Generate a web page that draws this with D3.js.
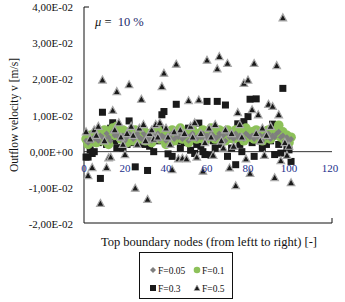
<!DOCTYPE html>
<html><head><meta charset="utf-8">
<script src="https://cdn.jsdelivr.net/npm/d3@7"></script>
<style>body{margin:0;background:#fff}svg{display:block}</style>
</head><body>
<svg id="c" width="345" height="302"></svg>
<script>
// Data (values in m/s), node index 1..101
const xTicks = [0, 20, 40, 60, 80, 100, 120];
const yTicks = [-0.02, -0.01, 0, 0.01, 0.02, 0.03, 0.04];
const yTickLabels = ["-2,00E-02","-1,00E-02","0,00E+00","1,00E-02","2,00E-02","3,00E-02","4,00E-02"];
const seriesNames = ["F=0.05", "F=0.1", "F=0.3", "F=0.5"];

const f005 = [3.0,2.5,3.5,3.0,4.0,3.5,3.0,4.5,4.0,3.5,5.0,4.0,3.0,5.5,4.5,5.0,4.0,3.5,4.5,3.0,
  4.0,5.0,4.5,3.5,4.0,5.0,4.0,3.5,5.0,4.0,4.5,3.5,3.0,4.5,4.0,5.0,3.5,4.5,4.0,3.0,
  4.5,4.0,5.0,3.5,4.5,4.0,5.0,3.5,4.0,4.5,3.0,4.5,5.0,4.0,3.5,4.5,4.0,5.0,3.5,4.5,
  4.0,5.0,4.5,3.5,4.0,5.0,4.0,4.5,3.0,5.0,4.0,4.5,3.5,5.0,4.0,4.5,4.0,3.5,5.0,4.5,
  4.0,4.5,3.5,5.0,4.0,4.5,3.0,4.5,4.0,5.0,3.5,4.5,4.0,5.0,5.5,4.0,4.5,3.0,4.0,3.0,3.5].map(v => v * 1e-3);

const f01 = [3.5,2.0,4.5,3.0,5.0,2.5,4.0,5.5,3.0,6.0,4.0,2.0,5.0,6.5,4.5,7.0,5.5,3.5,6.0,4.0,
  2.5,5.5,4.5,3.0,6.0,5.0,3.5,4.5,6.0,3.0,5.0,4.0,2.5,5.5,4.5,6.0,3.5,5.0,4.0,2.0,
  5.5,4.5,6.0,3.0,5.0,4.0,6.5,3.5,5.0,4.5,2.5,5.5,6.0,4.0,3.5,5.0,4.5,6.0,3.0,5.5,
  4.0,6.5,4.5,3.5,5.0,6.0,4.0,5.5,3.0,6.0,4.5,5.0,3.5,6.0,4.0,5.5,4.5,3.0,6.5,5.0,
  4.0,5.5,3.5,6.0,4.5,5.0,3.0,5.5,4.0,6.0,3.5,5.0,4.5,6.0,7.3,4.0,5.5,3.0,4.5,2.5,4.0].map(v => v * 1e-3);

const f03 = [-1.5,-1.5,0.5,-0.5,0.0,3.0,2.5,-7.4,10.9,4.0,2.0,5.5,6.5,8.0,3.0,1.1,6.0,3.5,1.0,5.0,
  2.0,8.5,4.5,2.5,-4.2,3.0,4.5,6.0,2.0,3.5,-5.2,1.5,4.0,0.0,5.0,3.0,6.5,10.2,11.1,4.0,
  -0.6,2.0,-1.3,5.5,13.1,3.0,1.0,4.0,2.5,5.0,6.5,0.4,3.0,-0.5,2.0,7.9,1.5,0.0,-0.8,13.9,
  4.5,-1.0,3.0,1.0,13.9,5.0,2.0,4.0,12.9,-1.3,3.5,1.0,5.0,-3.6,7.7,2.0,0.0,8.3,4.0,9.7,
  14.5,2.5,-1.3,14.6,5.5,3.0,1.0,4.5,2.0,6.0,3.0,7.6,-0.8,6.5,2.0,-0.4,17.5,3.0,1.0,0.5,-2.7].map(v => v * 1e-3);

const f05 = [5.5,-6.6,3.5,-4.4,6.0,4.5,7.0,-14.3,19.8,3.0,-4.4,-1.7,-1.5,11.4,6.0,16.6,8.0,4.0,2.0,-0.8,
  5.0,18.5,7.0,4.5,-10.1,2.0,6.5,14.5,7.5,3.0,-13.2,5.0,6.0,3.5,7.5,4.0,8.0,18.0,21.7,6.5,
  4.0,2.0,-5.0,5.5,24.2,-2.0,6.0,-1.8,5.0,-2.0,14.1,7.0,4.0,8.0,-1.5,14.3,5.0,-5.4,2.5,25.3,
  6.5,4.0,-1.0,7.5,22.9,26.3,3.0,1.0,6.0,24.4,-4.5,5.0,1.5,-9.4,10.8,7.5,4.0,18.9,-2.0,19.8,
  -6.0,11.6,24.4,5.0,10.2,3.0,6.5,-1.0,4.5,13.1,7.0,12.5,-7.2,23.8,10.2,-2.5,37.0,2.5,-1.0,1.5,-8.6].map(v => v * 1e-3);

const svg = d3.select("#c");
const serif = "'Liberation Serif','DejaVu Serif',serif";
const pLeft = 84, pRight = 332, pTop = 7, pBottom = 223;
const x = d3.scaleLinear().domain([0, 120]).range([84, 330]);
const y = d3.scaleLinear().domain([-0.02, 0.04]).range([224, 7]);

// frame
svg.append("path").attr("d", `M${pLeft+5},${pTop}H${pLeft}V${pBottom}H${pRight}V${pBottom-5}`)
  .attr("fill","none").attr("stroke","#111").attr("stroke-width",1);
// x axis line at zero
svg.append("line").attr("x1",pLeft).attr("x2",pRight).attr("y1",y(0)).attr("y2",y(0))
  .attr("stroke","#333").attr("stroke-width",1);

// y tick labels
svg.selectAll(".yt").data(yTicks).enter().append("text")
  .attr("x",73).attr("y",d=>y(d)+4).attr("text-anchor","end")
  .attr("font-family",serif).attr("font-size",11).attr("fill","#111")
  .text((d,i)=>yTickLabels[i]);

// points
const dx = (d,i)=>x(i+1);
function drawSquares(data){
  svg.append("g").selectAll("rect").data(data).enter().append("rect")
    .attr("x",(d,i)=>dx(d,i)-3.5).attr("y",d=>y(d)-3.5).attr("width",7).attr("height",7)
    .attr("fill","#1a1a1a");
}
function drawCircles(data){
  svg.append("g").selectAll("circle").data(data).enter().append("circle")
    .attr("cx",dx).attr("cy",d=>y(d)).attr("r",4.8).attr("fill","#8dc15a");
}
function drawDiamonds(data){
  svg.append("g").selectAll("path").data(data).enter().append("path")
    .attr("d",(d,i)=>{const cx=dx(d,i),cy=y(d);return `M${cx},${cy-3}L${cx+3},${cy}L${cx},${cy+3}L${cx-3},${cy}Z`;})
    .attr("fill","#7f7f7f");
}
function drawTriangles(data){
  svg.append("g").selectAll("path").data(data).enter().append("path")
    .attr("d",(d,i)=>{const cx=dx(d,i),cy=y(d);return `M${cx},${cy-4}L${cx+3.8},${cy+3}L${cx-3.8},${cy+3}Z`;})
    .attr("fill","#1a1a1a").attr("stroke","#a8a8a8").attr("stroke-width",1.2);
}
drawSquares(f03);
drawCircles(f01);
drawDiamonds(f005);
drawTriangles(f05);

// x tick labels
svg.selectAll(".xt").data(xTicks).enter().append("text")
  .attr("x",d=>x(d)).attr("y",y(0)+20).attr("text-anchor","middle")
  .attr("font-family",serif).attr("font-size",11).attr("fill","#1c2f8c")
  .text(d=>d);

// mu label
const mu = svg.append("text").attr("x",95).attr("y",26).attr("font-family",serif).attr("font-size",12.5)
  .attr("fill","#111").style("white-space","pre");
mu.append("tspan").attr("font-style","italic").text("μ");
mu.append("tspan").text(" =  ");
mu.append("tspan").attr("fill","#1c2a6b").text("10 %");

// axis titles
svg.append("text").attr("transform","translate(18,115) rotate(-90)").attr("text-anchor","middle")
  .attr("font-family",serif).attr("font-size",11.5).attr("fill","#111").text("Outflow velocity v [m/s]");
svg.append("text").attr("x",209).attr("y",246).attr("text-anchor","middle")
  .attr("font-family",serif).attr("font-size",12.5).attr("fill","#111").text("Top boundary nodes (from leftt to right) [-]");

// legend
svg.append("rect").attr("x",139.5).attr("y",252.5).attr("width",93).attr("height",46)
  .attr("fill","#fff").attr("stroke","#111").attr("stroke-width",1);
const lg = svg.append("g");
const leg = [
  {name:seriesNames[0], mx:153, my:270},
  {name:seriesNames[1], mx:197, my:270},
  {name:seriesNames[2], mx:153, my:288},
  {name:seriesNames[3], mx:197, my:288}
];
lg.append("path").attr("d",`M${leg[0].mx},${leg[0].my-3}L${leg[0].mx+3},${leg[0].my}L${leg[0].mx},${leg[0].my+3}L${leg[0].mx-3},${leg[0].my}Z`).attr("fill","#7f7f7f");
lg.append("circle").attr("cx",leg[1].mx).attr("cy",leg[1].my).attr("r",3.3).attr("fill","#8dc15a");
lg.append("rect").attr("x",leg[2].mx-3).attr("y",leg[2].my-3).attr("width",6).attr("height",6).attr("fill","#1a1a1a");
lg.append("path").attr("d",`M${leg[3].mx},${leg[3].my-3}L${leg[3].mx+3},${leg[3].my+2.5}L${leg[3].mx-3},${leg[3].my+2.5}Z`).attr("fill","#1a1a1a").attr("stroke","#a8a8a8").attr("stroke-width",0.8);
lg.selectAll("text").data(leg).enter().append("text")
  .attr("x",d=>d.mx+5).attr("y",d=>d.my+3.5).attr("font-family",serif).attr("font-size",9.5).attr("fill","#111")
  .text(d=>d.name);
</script>
</body></html>
